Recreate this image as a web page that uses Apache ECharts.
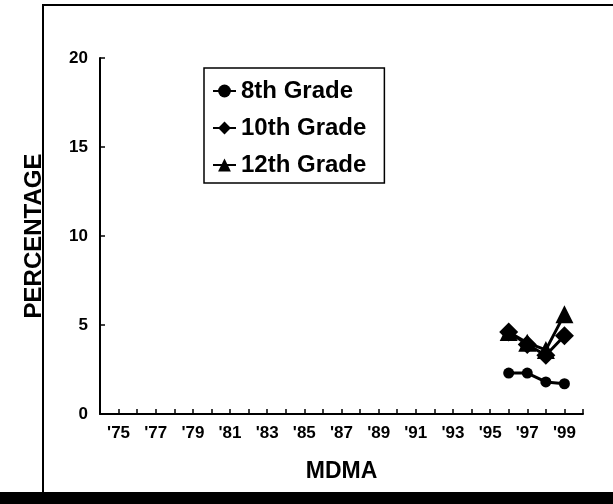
<!DOCTYPE html>
<html><head><meta charset="utf-8">
<script src="https://cdn.jsdelivr.net/npm/echarts@6/dist/echarts.min.js"></script>
<style>html,body{margin:0;padding:0;background:#fff}#c{width:613px;height:504px}</style>
</head><body><div id="c"></div>
<script>
const years = [1996, 1997, 1998, 1999];
const grade8 = [2.3, 2.3, 1.8, 1.7];
const grade10 = [4.6, 3.9, 3.3, 4.4];
const grade12 = [4.6, 4.0, 3.6, 5.6];
const seriesNames = ['8th Grade', '10th Grade', '12th Grade'];
const yTicks = [0, 5, 10, 15, 20];
const xName = 'MDMA';
const yName = 'PERCENTAGE';

const font = '"Liberation Sans", Arial, sans-serif';
const chart = echarts.init(document.getElementById('c'));
function pairs(v){ return years.map((y,i)=>[y, v[i]]); }
chart.setOption({
  animation: false,
  backgroundColor: '#fff',
  grid: {left: 100, right: 30, top: 58, bottom: 90},
  graphic: [
    {type:'polyline', shape:{points:[[43,492],[43,5],[613,5]]}, style:{stroke:'#000', lineWidth:2, fill:null}},
    {type:'rect', shape:{x:0,y:492,width:613,height:12}, style:{fill:'#000'}}
  ],
  legend: {
    orient: 'vertical', left: 204, top: 68,
    data: seriesNames,
    itemWidth: 23, itemHeight: 16, itemGap: 13,
    padding: [11, 18, 6, 8],
    borderColor: '#000', borderWidth: 1.5,
    textStyle: {fontFamily: font, fontWeight: 'bold', fontSize: 24, color: '#000'}
  },
  xAxis: {
    type: 'value', min: 1974, max: 2000, interval: 1,
    name: xName, nameLocation: 'middle', nameGap: 46,
    nameTextStyle: {fontFamily: font, fontWeight: 'bold', fontSize: 23, color: '#000'},
    axisLine: {lineStyle: {color: '#000', width: 2}},
    axisTick: {inside: true, length: 5, lineStyle: {color:'#000', width: 1.5}},
    splitLine: {show: false},
    axisLabel: {
      margin: 11, fontFamily: font, fontWeight: 'bold', fontSize: 17, color: '#000',
      formatter: v => (v % 2 === 1 && v <= 1999) ? "'" + String(v).slice(2) : ''
    }
  },
  yAxis: {
    type: 'value', min: yTicks[0], max: yTicks[yTicks.length-1], interval: 5,
    name: yName, nameLocation: 'middle', nameGap: 54,
    nameTextStyle: {fontFamily: font, fontWeight: 'bold', fontSize: 24, color: '#000'},
    axisLine: {show: true, lineStyle: {color: '#000', width: 2}},
    axisTick: {show: true, inside: true, length: 5, lineStyle: {color:'#000', width: 1.5}},
    splitLine: {show: false},
    axisLabel: {margin: 12, fontFamily: font, fontWeight: 'bold', fontSize: 17, color: '#000'}
  },
  series: [
    {name: seriesNames[0], type: 'line', data: pairs(grade8), symbol: 'circle', symbolSize: 11,
      itemStyle: {color: '#000'}, lineStyle: {color: '#000', width: 3}},
    {name: seriesNames[1], type: 'line', data: pairs(grade10), symbol: 'diamond', symbolSize: 19,
      itemStyle: {color: '#000'}, lineStyle: {color: '#000', width: 3}},
    {name: seriesNames[2], type: 'line', data: pairs(grade12), symbol: 'triangle', symbolSize: 18,
      itemStyle: {color: '#000'}, lineStyle: {color: '#000', width: 3}}
  ]
});
</script></body></html>
